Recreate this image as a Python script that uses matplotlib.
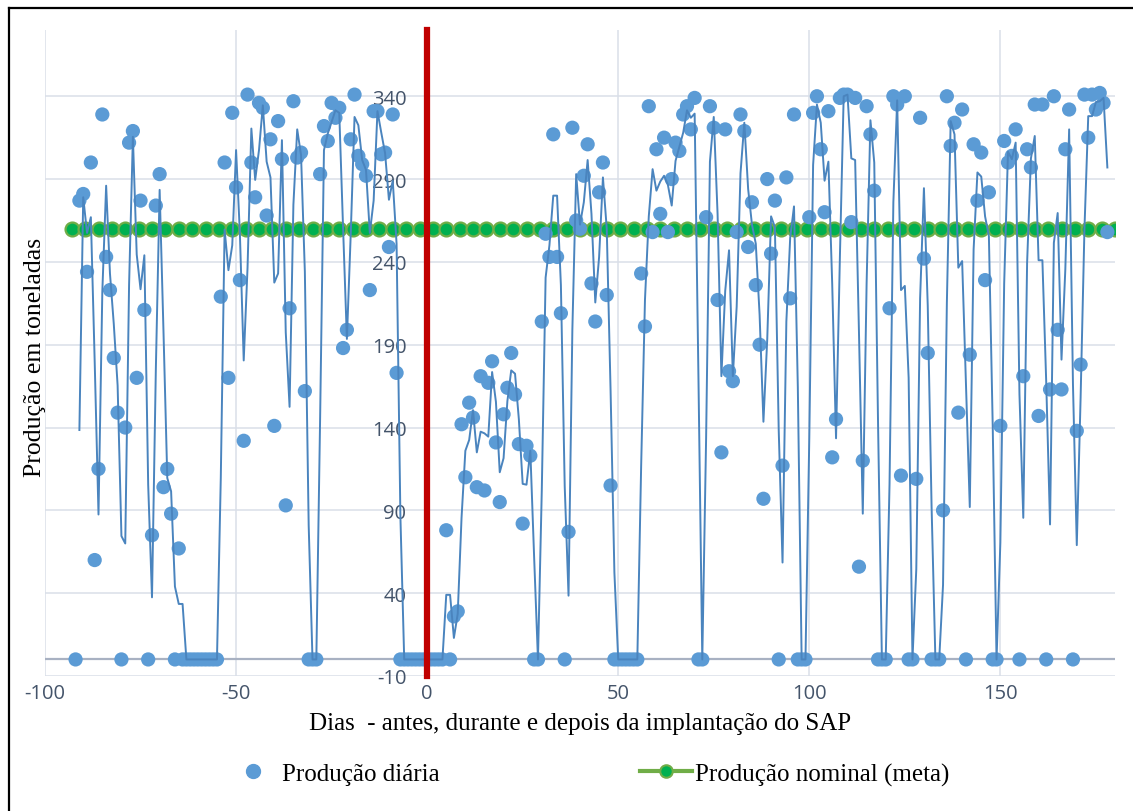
import numpy as np
import pandas as pd
import matplotlib
matplotlib.use('Agg')
from matplotlib import pyplot as plt
from matplotlib.lines import Line2D

plt.rcParams['axes.unicode_minus'] = False

# dias relativos ao inicio da implantacao do SAP (dia 0)
dias = list(range(-92, 179))

# producao diaria em toneladas (dia -92 ate dia 178)
producao_diaria = [
    0, 277, 281, 234, 300, 60, 115, 329, 243, 223, 182, 149, 0, 140,          # -92..-79
    312, 319, 170, 277, 211, 0, 75, 274, 293, 104, 115, 88, 0, 67,            # -78..-65
    0, 0, 0, 0, 0, 0, 0, 0, 0, 0,                                             # -64..-55
    219, 300, 170, 330, 285, 229, 132, 341, 300, 279, 336, 333, 268, 314,     # -54..-41
    141, 325, 302, 93, 212, 337, 303, 306, 162,                               # -40..-32
    0, 0, 0,                                                                  # -31..-29
    293, 322, 313, 336, 327, 333, 188, 199, 314, 341, 304, 299, 292, 223,     # -28..-15
    331, 331, 305, 306, 249, 329, 173,                                        # -14..-8
    0, 0, 0, 0, 0, 0, 0, 0, 0, 0, 0, 0,                                       # -7..4
    78, 0, 26, 29, 142, 110, 155, 146, 104, 171, 102, 167, 180, 131,          # 5..18
    95, 148, 164, 185, 160, 130, 82, 129, 123, 0, 0,                          # 19..29
    204, 257, 243, 317, 243, 209, 0, 77, 321, 265, 260, 292, 311, 227,        # 30..43
    204, 282, 300, 220, 105,                                                  # 44..48
    0, 0, 0, 0, 0, 0, 0,                                                      # 49..55
    233, 201, 334, 258, 308, 269, 315, 258, 290, 312, 307, 329, 334, 320,     # 56..69
    339, 0, 0,                                                                # 70..72
    267, 334, 321, 217, 125, 320, 174, 168, 258, 329, 319, 249, 276, 226,     # 73..86
    190, 97, 290, 245, 277, 0, 117, 291, 218, 329, 0, 0, 0,                   # 87..99
    267, 330, 340, 308, 270, 331, 122, 145, 339, 341, 341, 264, 339, 56,      # 100..113
    120, 334, 317, 283, 0, 0, 0, 212, 340, 335, 111, 340, 0, 0,               # 114..127
    109, 327, 242, 185, 0, 0, 0, 90, 340, 310, 324, 149, 332, 0,              # 128..141
    184, 311, 277, 306, 229, 282, 0, 0, 141, 313, 300, 304, 320, 0,           # 142..155
    171, 308, 297, 335, 147, 335, 0, 163, 340, 199, 163, 308, 332, 0,         # 156..169
    138, 178, 341, 315, 341, 332, 342, 336, 258,                              # 170..178
]

# producao nominal (meta)
meta = 260
dias_meta = [-93, -89.5, -86, -82.5, -79, -75.5, -72, -68.5, -65, -61.5, -58,
             -54.5, -51, -47.5, -44, -40.5, -37, -33.5, -30, -26.5, -23, -19.5,
             -16, -12.5, -9, -5.5, -2, 1.5, 5, 8.5, 12, 15.5, 19, 22.5, 26, 29.5,
             33, 36.5, 40, 43.5, 47, 50.5, 54, 57.5, 61, 64.5, 68, 71.5, 75, 78.5,
             82, 85.5, 89, 92.5, 96, 99.5, 103, 106.5, 110, 113.5, 117, 120.5,
             124, 127.5, 131, 134.5, 138, 141.5, 145, 148.5, 152, 155.5, 159,
             162.5, 166, 169.5, 173, 176.5, 180]

x_ticks = [-100, -50, 0, 50, 100, 150]
y_ticks = [-10, 40, 90, 140, 190, 240, 290, 340]

# media movel de 2 periodos (linha de tendencia do Excel)
media_movel = pd.Series(producao_diaria, index=dias).rolling(2).mean()

W, H = 1133, 812
fig = plt.figure(figsize=(W / 100, H / 100), dpi=100)
ax = fig.add_axes([45 / W, 1 - 677 / H, (1115 - 45) / W, (677 - 31) / H])

ax.plot(dias_meta, [meta] * len(dias_meta), color='#70AD47', lw=2.5,
        marker='o', ms=10, mfc='#00B050', mec='#70AD47', mew=1.6, zorder=2)
ax.scatter(dias, producao_diaria, s=105, color='#5B9BD5', edgecolors='none', zorder=3)
ax.plot(media_movel.index, media_movel.values, color='#4A84BE', lw=1.4, zorder=4)

ax.axhline(0, color='#A8B1C2', lw=1.6, zorder=1.5)

ax.set_xlim(-100, 180)
ax.set_ylim(-10, 380)
ax.set_xticks(x_ticks)
ax.set_yticks(y_ticks)
ax.grid(True, color='#DADFE8', lw=1.1, zorder=0)
ax.set_axisbelow(True)

for s in ['top', 'right', 'bottom']:
    ax.spines[s].set_visible(False)
ax.spines['left'].set_position(('data', 0))
ax.spines['left'].set_color('#C00000')
ax.spines['left'].set_linewidth(4.5)
ax.spines['left'].set_zorder(5)

ax.tick_params(axis='both', length=0, labelsize=14.5, labelcolor='#44546A')
ax.tick_params(axis='y', pad=15)
ax.tick_params(axis='x', pad=5)
for lab in ax.get_xticklabels() + ax.get_yticklabels():
    lab.set_family('Open Sans')

serif = 'Liberation Serif'
fig.text(580 / W, 1 - 724 / H, 'Dias  - antes, durante e depois da implantação do SAP',
         ha='center', va='center', family=serif, fontsize=18)
fig.text(35 / W, 1 - 357 / H, 'Produção em toneladas', rotation=90,
         ha='center', va='center', family=serif, fontsize=18.5)

handles = [
    Line2D([], [], ls='none', marker='o', ms=10, color='#5B9BD5'),
    Line2D([], [], color='#70AD47', lw=3, marker='o', ms=9,
           mfc='#00B050', mec='#70AD47', mew=1.5),
]
fig.legend(handles, ['Produção diária', 'Produção nominal (meta)'],
           loc='center left', bbox_to_anchor=(227 / W, 1 - 775 / H), ncol=2,
           frameon=False, borderpad=0, borderaxespad=0, handlelength=2.08,
           handletextpad=0.12, columnspacing=8.0,
           prop={'family': serif, 'size': 18})

# moldura do grafico
fig.add_artist(Line2D([9 / W, 9 / W], [0, 1 - 9 / H], color='black', lw=1.6))
fig.add_artist(Line2D([9 / W, 1], [1 - 9 / H, 1 - 9 / H], color='black', lw=1.6))

fig.savefig('out.png', dpi=100)
